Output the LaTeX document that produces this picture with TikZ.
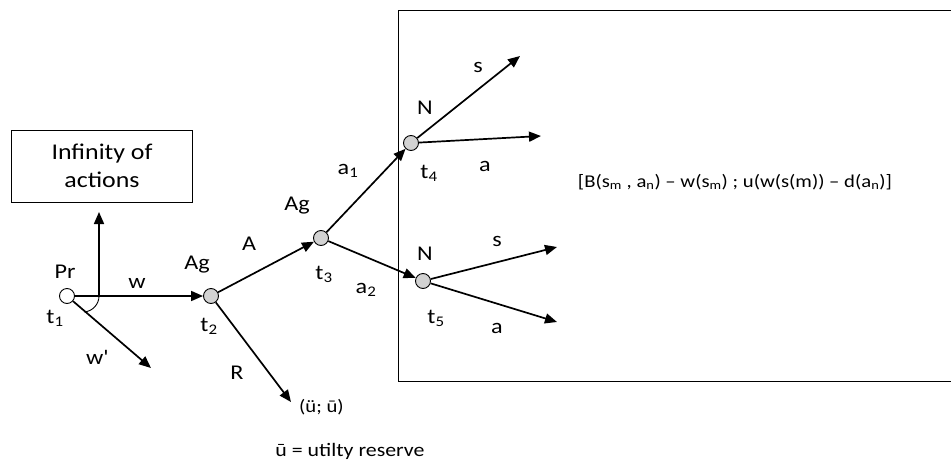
\documentclass[tikz,border=0pt]{standalone}
\usepackage{fontspec}
\setmainfont{Carlito}[FakeStretch=1.15]
\usetikzlibrary{arrows.meta, positioning}

\begin{document}
\begin{tikzpicture}[
    x=1pt, y=-1pt,
    >={Triangle[length=12pt, width=10pt]},
    dec/.style={circle, draw, line width=0.9pt, fill=gray!35,
                minimum size=15pt, inner sep=0pt},
    move/.style={->, line width=1.7pt},
    lbl/.style={font=\fontsize{21}{24}\selectfont, inner sep=0pt},
    small/.style={font=\fontsize{18}{22}\selectfont, inner sep=0pt}
  ]
  \useasboundingbox (0,0) rectangle (951,461);

  % Principal at t1
  \node[dec, fill=white] (pr) at (67,296) {};
  \node[lbl] (prl) at (65,272) {Pr};
  \node[lbl] (t1) at (55,318) {t\textsubscript{1}};

  % Infinity of actions
  \node[draw, line width=0.9pt, minimum width=181pt, minimum height=72pt,
        align=center, font=\fontsize{22.5}{28}\selectfont] (inf) at (102,166)
        {Infinity of\\actions};
  \coordinate (upbase) at (99,296);
  \coordinate (uptip) at (99,212);
  \draw[move] (upbase) -- (uptip);

  % Agent at t2
  \node[dec] (ag2) at (211,296) {};
  \node[lbl] (ag2l) at (197,265) {Ag};
  \node[lbl] (t2) at (209,326) {t\textsubscript{2}};
  \draw[move] (pr) -- (ag2);
  \node[lbl] (wl) at (137,283) {w};

  % refused contract
  \coordinate (wpend) at (151,368);
  \draw[move] (pr) -- (wpend);
  \node[lbl] (wpl) at (97,357) {w\textquotesingle};
  \draw[line width=0.9pt] (upbase) arc[start angle=0, end angle=85, radius=16];

  % Reserve utility
  \coordinate (rend) at (291,402);
  \draw[move] (ag2) -- (rend);
  \node[lbl] (rl) at (237,373) {R};
  \node[small, anchor=west] (res) at (299,407) {(ü; ū)};

  % Agent at t3
  \node[dec] (ag3) at (321,238) {};
  \node[lbl] (ag3l) at (297,206) {Ag};
  \node[lbl] (t3) at (324,274) {t\textsubscript{3}};
  \draw[move] (ag2) -- (ag3);
  \node[lbl] (al) at (249,244) {A};

  % Nature at t4 and t5
  \node[dec] (n4) at (411,143) {};
  \node[lbl] (n4l) at (425,108) {N};
  \node[lbl] (t4) at (429,173) {t\textsubscript{4}};
  \node[dec] (n5) at (423,281) {};
  \node[lbl] (n5l) at (425,254) {N};
  \node[lbl] (t5) at (436,318) {t\textsubscript{5}};
  \draw[move] (ag3) -- (n4);
  \draw[move] (ag3) -- (n5);
  \node[lbl] (a1l) at (348,171) {a\textsubscript{1}};
  \node[lbl] (a2l) at (366,290) {a\textsubscript{2}};

  % outcomes
  \coordinate (s4) at (520,56);
  \coordinate (a4) at (541,136);
  \coordinate (s5) at (557,247);
  \coordinate (a5) at (557,322);
  \draw[move] (n4) -- (s4);
  \draw[move] (n4) -- (a4);
  \draw[move] (n5) -- (s5);
  \draw[move] (n5) -- (a5);
  \node[lbl] (s4l) at (478,67) {s};
  \node[lbl] (a4l) at (485,166) {a};
  \node[lbl] (s5l) at (497,241) {s};
  \node[lbl] (a5l) at (497,328) {a};

  % payoff box
  \draw[line width=0.9pt] (951,10) -- (398,10) -- (398,381) -- (951,381);
  \node[small] (pay) at (735,182)
    {[B(s\textsubscript{m} , a\textsubscript{n}) – w(s\textsubscript{m}) ;
     u(w(s(m)) – d(a\textsubscript{n})]};

  % legend
  \node[small, font=\fontsize{19}{22}\selectfont] (legend) at (350,451)
    {ū = utilty reserve};
\end{tikzpicture}
\end{document}
